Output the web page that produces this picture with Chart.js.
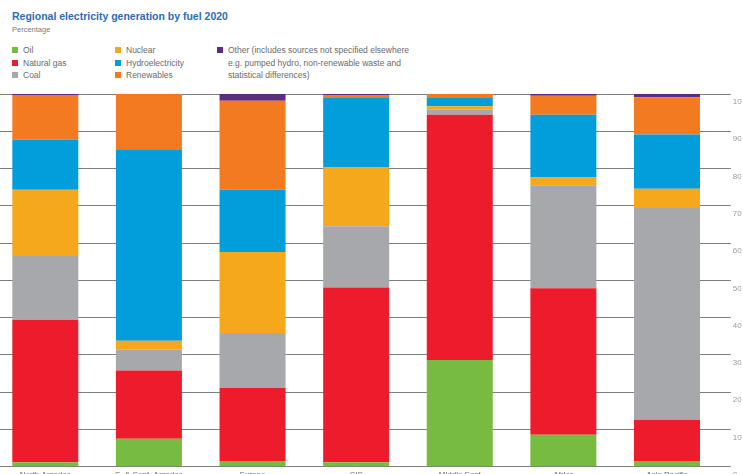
<!DOCTYPE html>
<html>
<head>
<meta charset="utf-8">
<script src="https://cdn.jsdelivr.net/npm/chart.js@4"></script>
<style>
    html, body {
        margin: 0;
        padding: 0;
        width: 742px;
        height: 474px;
        overflow: hidden;
        background: #ffffff;
        font-family: "Liberation Sans", Arial, sans-serif;
    }
    .title {
        position: absolute;
        left: 12px;
        top: 10px;
        font-size: 10.5px;
        font-weight: bold;
        color: #2a6db5;
        white-space: nowrap;
    }
    .subtitle {
        position: absolute;
        left: 12px;
        top: 25px;
        font-size: 7.5px;
        color: #7a7a7a;
    }
    .legend {
        position: absolute;
        top: 44px;
        font-size: 8.5px;
        line-height: 12.7px;
        color: #6a6a6a;
    }
    .legend div {
        position: relative;
        padding-left: 11px;
        white-space: nowrap;
    }
    .legend span {
        position: absolute;
        left: 0;
        top: 3px;
        width: 6px;
        height: 6px;
    }
    .legend .plain {
        padding-left: 11px;
    }
    #chartBox {
        position: absolute;
        left: -20px;
        top: 80px;
        width: 800px;
        height: 420px;
    }
</style>
</head>
<body>

<div class="title">Regional electricity generation by fuel 2020</div>
<div class="subtitle">Percentage</div>

<div class="legend" id="legendA" style="left:12px"></div>
<div class="legend" id="legendB" style="left:115px"></div>
<div class="legend" id="legendC" style="left:217px"></div>

<div id="chartBox"><canvas id="fuelChart"></canvas></div>

<script>

// =========================================
// Data
// =========================================

const regions = [
    "North America","S. & Cent. America","Europe","CIS",
    "Middle East","Africa","Asia Pacific"
];

const oil         = [1.2, 7.5, 1.5, 1.2, 28.6, 8.6, 1.5];
const naturalGas  = [38.2, 18.3, 19.6, 46.9, 65.8, 39.3, 11.1];
const coal        = [17.1, 5.6, 14.8, 16.4, 1.4, 27.6, 56.8];
const nuclear     = [17.8, 2.4, 21.7, 15.8, 0.9, 2.1, 5.2];
const hydro       = [13.4, 51.4, 16.7, 18.6, 2.2, 16.8, 14.5];
const renewables  = [12.0, 14.8, 23.9, 0.7, 1.1, 5.1, 10.0];
const other       = [0.3, 0.0, 1.8, 0.4, 0.0, 0.5, 0.9];

const yTicks = [0,10,20,30,40,50,60,70,80,90,100];

// =========================================
// Series
// =========================================

const series = [
    {label:"Oil",              data:oil,        color:"#77bb41"},
    {label:"Natural gas",      data:naturalGas, color:"#ec1c2d"},
    {label:"Coal",             data:coal,       color:"#a6a8ab"},
    {label:"Nuclear",          data:nuclear,    color:"#f6a81d"},
    {label:"Hydroelectricity", data:hydro,      color:"#029ddb"},
    {label:"Renewables",       data:renewables, color:"#f47a21"},
    {label:"Other",            data:other,      color:"#5c2b86"}
];

// =========================================
// Legend
// =========================================

function legendItem(s){
    return '<div><span style="background:' + s.color + '"></span>' + s.label + '</div>';
}

document.getElementById("legendA").innerHTML =
    legendItem(series[0]) + legendItem(series[1]) + legendItem(series[2]);

document.getElementById("legendB").innerHTML =
    legendItem(series[3]) + legendItem(series[4]) + legendItem(series[5]);

document.getElementById("legendC").innerHTML =
    '<div><span style="background:' + series[6].color + '"></span>' +
    'Other (includes sources not specified elsewhere</div>' +
    '<div class="plain">e.g. pumped hydro, non-renewable waste and</div>' +
    '<div class="plain">statistical differences)</div>';

// =========================================
// Chart
// =========================================

Chart.defaults.font.family = "'Liberation Sans', Arial, sans-serif";

new Chart(document.getElementById("fuelChart"),{

    type:"bar",

    data:{

        labels:regions,

        datasets:series.map(s => ({
            label:s.label,
            data:s.data,
            backgroundColor:s.color,
            borderWidth:0,
            barPercentage:0.637,
            categoryPercentage:1
        }))

    },

    options:{

        responsive:true,
        maintainAspectRatio:false,
        animation:false,

        layout:{
            padding:{left:13.5, top:14, right:0, bottom:0}
        },

        plugins:{
            legend:{display:false},
            tooltip:{enabled:false}
        },

        scales:{

            x:{
                stacked:true,
                grid:{display:false, drawTicks:false},
                border:{display:false},
                ticks:{
                    color:"#6a6a6a",
                    font:{size:8},
                    padding:3,
                    maxRotation:0,
                    autoSkip:false
                },
                afterFit:(scale)=>{ scale.height = 33.3; }
            },

            y:{
                stacked:true,
                position:"right",
                min:0,
                max:100,
                afterBuildTicks:(scale)=>{
                    scale.ticks = yTicks.map(v => ({value:v}));
                },
                grid:{
                    color:"#7d7d7d",
                    lineWidth:1,
                    tickLength:12,
                    drawTicks:true
                },
                border:{display:false},
                ticks:{
                    color:"#9a9a9a",
                    font:{size:8},
                    padding:2,
                    labelOffset:8
                },
                afterFit:(scale)=>{ scale.width = 61.2; }
            }

        }

    }

});

</script>
</body>
</html>
